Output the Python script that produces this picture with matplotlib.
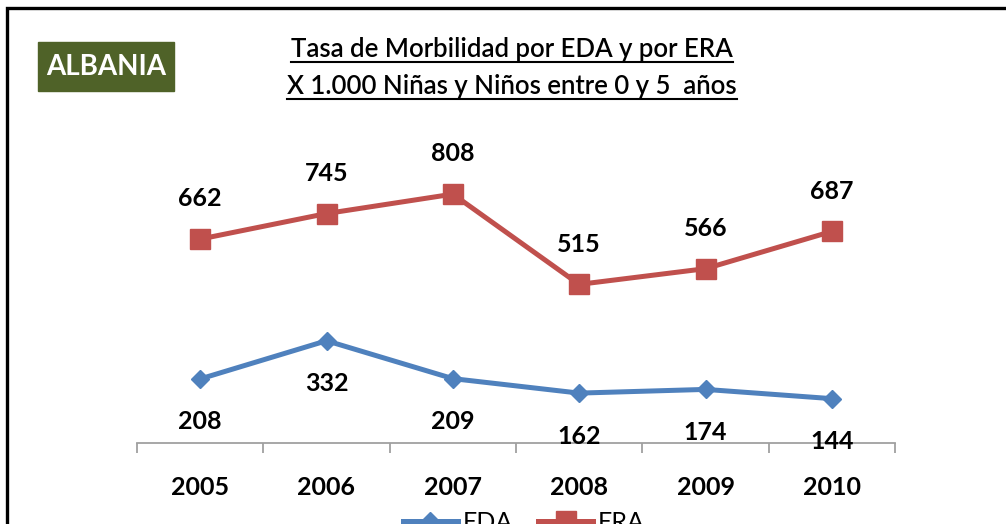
import matplotlib.pyplot as plt
from matplotlib.lines import Line2D
from matplotlib.patches import Rectangle
import numpy as np

plt.rcParams['font.family'] = ['Lato', 'DejaVu Sans']

years = ['2005', '2006', '2007', '2008', '2009', '2010']
eda = [208, 332, 209, 162, 174, 144]
era = [662, 745, 808, 515, 566, 687]

blue = '#4F81BD'
red = '#C0504D'
green = '#4F6228'

W, H = 1006, 524
fig = plt.figure(figsize=(W / 100, H / 100), dpi=100)
ax = fig.add_axes([137 / W, 1 - 443 / H, 758 / W, 308 / H])

x = np.arange(len(years))
ax.plot(x, eda, color=blue, lw=3.6, marker='D', ms=9.5, label='EDA', clip_on=False)
ax.plot(x, era, color=red, lw=3.6, marker='s', ms=14, label='ERA', clip_on=False)

for xi, v in zip(x, era):
    ax.annotate(str(v), (xi, v), xytext=(0, 29), textcoords='offset points',
                ha='center', va='center', fontsize=18, fontweight='bold')
for xi, v in zip(x, eda):
    ax.annotate(str(v), (xi, v), xytext=(0, -31), textcoords='offset points',
                ha='center', va='center', fontsize=18, fontweight='bold')

ax.set_xlim(-0.5, len(years) - 0.5)
ax.set_ylim(0, 1000)
for s in ['top', 'right', 'left']:
    ax.spines[s].set_visible(False)
ax.spines['bottom'].set_color('#A0A0A0')
ax.spines['bottom'].set_linewidth(1.3)
ax.set_yticks([])
ax.set_xticks(x)
ax.set_xticklabels(years, fontsize=18, fontweight='bold')
ax.set_xticks(np.arange(-0.5, len(years)), minor=True)
ax.tick_params(axis='x', which='major', length=0, pad=24)
ax.tick_params(axis='x', which='minor', length=7.5, width=1.3, color='#A0A0A0', direction='out')

leg = fig.legend(loc='center', bbox_to_anchor=(524 / W, (H - 522) / H), ncol=2, frameon=False,
                 fontsize=18, handlelength=2.2, handletextpad=0.2, columnspacing=1.0)

# title, underlined
t1 = fig.text(512 / W, 1 - 57 / H, 'Tasa de Morbilidad por EDA y por ERA', ha='center', va='baseline',
              fontsize=18.5, fontweight='semibold')
t2 = fig.text(512 / W, 1 - 94 / H, 'X 1.000 Niñas y Niños entre 0 y 5  años', ha='center', va='baseline',
              fontsize=18.5, fontweight='semibold')
r = fig.canvas.get_renderer()
for t, uy in [(t1, 62), (t2, 99)]:
    bb = t.get_window_extent(r)
    fig.add_artist(Line2D([bb.x0 / W, bb.x1 / W], [1 - uy / H, 1 - uy / H], color='black', lw=1.5))

# country box
fig.add_artist(Rectangle((38 / W, 1 - 91 / H), 136 / W, 49 / H, color=green))
fig.text(106 / W, 1 - 67 / H, 'ALBANIA', ha='center', va='center', color='white',
         fontsize=20, fontweight='bold')

# frame (cut at right and bottom)
fig.add_artist(Rectangle((7 / W, -0.1), 1.2, 1.1 - 7.5 / H, fill=False, ec='black', lw=2.4))

fig.savefig('out.png', dpi=100)
